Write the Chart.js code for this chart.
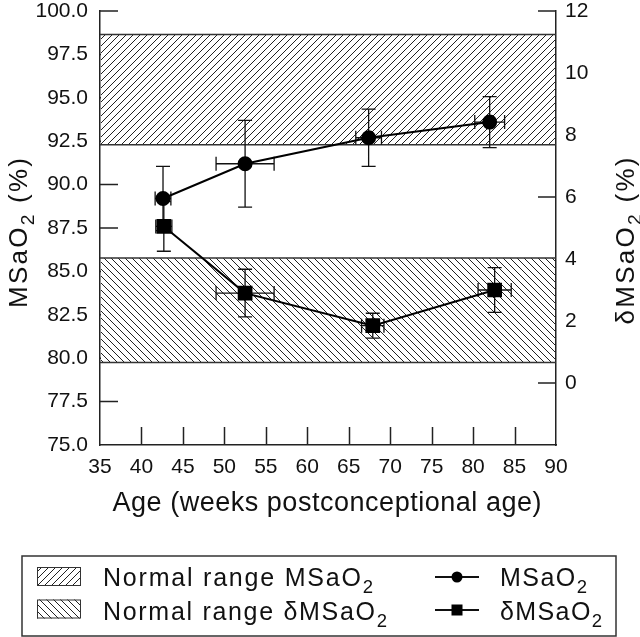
<!DOCTYPE html>
<html><head><meta charset="utf-8">
<script src="https://cdn.jsdelivr.net/npm/chart.js@4/dist/chart.umd.min.js"></script>
<style>html,body{margin:0;padding:0;background:#fff}canvas{display:block}</style>
</head><body>
<canvas id="c" width="640" height="637"></canvas>
<script>
// ---- data ----
const ageMS      = [42.6, 52.5, 67.4, 82.0];
const ageMSErr   = [0.95, 3.5, 1.55, 1.8];
const msao2      = [89.2, 91.2, 92.7, 93.6];
const msao2Err   = [1.85, 2.5, 1.65, 1.47];

const ageD       = [42.7, 52.5, 67.9, 82.6];
const ageDErr    = [0.97, 3.5, 1.35, 2.0];
const dmsao2     = [5.05, 2.9, 1.85, 3.0];
const dmsao2Err  = [0.8, 0.77, 0.4, 0.72];

const normalMS   = [92.3, 98.65];   // left axis
const normalD    = [0.66, 4.03];    // right axis

const xTicks  = {min: 35, max: 90, step: 5};
const yTicks  = {min: 75, max: 100, step: 2.5};
const y2Ticks = {min: -2, max: 12, step: 2};

const FONT = '"Liberation Sans", Arial, Helvetica, sans-serif';
const INK = '#111';

function makeHatch(ctx, dir){
  const s = 7, c = document.createElement('canvas');
  c.width = s; c.height = s;
  const g = c.getContext('2d');
  g.fillStyle = '#fff'; g.fillRect(0,0,s,s);
  g.strokeStyle = '#222'; g.lineWidth = 1;
  g.beginPath();
  if (dir > 0) {
    g.moveTo(-1, s+1); g.lineTo(s+1, -1);
    g.moveTo(-1, 1); g.lineTo(1, -1);
    g.moveTo(s-1, s+1); g.lineTo(s+1, s-1);
  } else {
    g.moveTo(-1, -1); g.lineTo(s+1, s+1);
    g.moveTo(s-1, -1); g.lineTo(s+1, 1);
    g.moveTo(-1, s-1); g.lineTo(1, s+1);
  }
  g.stroke();
  return ctx.createPattern(c, 'repeat');
}

function countChars(parts){ let n=0; for(const p of parts) n += [...p.t].length; return n; }
function naturalWidth(ctx, parts, size){
  let w = 0;
  for (const p of parts){
    ctx.font = (p.sub ? size*0.74 : size) + 'px ' + FONT;
    for (const ch of p.t) w += ctx.measureText(ch).width;
  }
  return w;
}
function drawRich(ctx, parts, x, y, size, target, align){
  const n = countChars(parts);
  const nat = naturalWidth(ctx, parts, size);
  const sp = target ? Math.max(0, (target - nat) / (n - 1)) : 0;
  const w = nat + sp * (n - 1);
  let cx = align === 'center' ? x - w/2 : x;
  ctx.textBaseline = 'alphabetic';
  ctx.textAlign = 'left';
  for (const p of parts){
    const fs = p.sub ? size*0.74 : size;
    ctx.font = fs + 'px ' + FONT;
    for (const ch of p.t){
      ctx.fillText(ch, cx, y + (p.sub ? size*0.28 : 0));
      cx += ctx.measureText(ch).width + sp;
    }
  }
}

const MS_TXT  = [{t:'MSaO'},{t:'2',sub:true}];
const D_TXT   = [{t:'\u03B4MSaO'},{t:'2',sub:true}];

const decor = {
  id: 'decor',
  beforeDatasetsDraw(chart){
    const {ctx, chartArea: a, scales} = chart;
    const x = scales.x, y = scales.y, y2 = scales.y2;
    ctx.save();
    // inward tick marks
    ctx.strokeStyle = '#222'; ctx.lineWidth = 1.5;
    ctx.beginPath();
    for (const t of x.ticks){ if (t.value <= xTicks.min || t.value >= xTicks.max) continue;
      const px = Math.round(x.getPixelForValue(t.value)) + 0.5;
      ctx.moveTo(px, a.bottom); ctx.lineTo(px, a.bottom - 18); }
    for (const t of y.ticks){ if (t.value <= yTicks.min) continue;
      const py = y.getPixelForValue(t.value);
      ctx.moveTo(a.left, py); ctx.lineTo(a.left + 18, py); }
    for (const t of y2.ticks){ if (t.value < 0) continue;
      const py = y2.getPixelForValue(t.value);
      ctx.moveTo(a.right, py); ctx.lineTo(a.right - 18, py); }
    ctx.stroke();
    // hatched normal ranges
    const bands = [
      {s: y,  r: normalMS, p: makeHatch(ctx, 1)},
      {s: y2, r: normalD,  p: makeHatch(ctx, -1)}
    ];
    for (const b of bands){
      const top = b.s.getPixelForValue(b.r[1]), bot = b.s.getPixelForValue(b.r[0]);
      ctx.fillStyle = b.p;
      ctx.fillRect(a.left + 1, top, a.right - a.left - 2, bot - top);
      ctx.strokeStyle = '#333'; ctx.lineWidth = 1.5;
      ctx.beginPath();
      ctx.moveTo(a.left, top); ctx.lineTo(a.right, top);
      ctx.moveTo(a.left, bot); ctx.lineTo(a.right, bot);
      ctx.stroke();
    }
    // error bars
    ctx.strokeStyle = INK; ctx.lineWidth = 1.3;
    const cap = 7;
    function err(xs, xe, ys, ye, sy){
      ctx.beginPath();
      for (let i = 0; i < xs.length; i++){
        const px = x.getPixelForValue(xs[i]), py = sy.getPixelForValue(ys[i]);
        const x0 = x.getPixelForValue(xs[i] - xe[i]), x1 = x.getPixelForValue(xs[i] + xe[i]);
        const y0 = sy.getPixelForValue(ys[i] + ye[i]), y1 = sy.getPixelForValue(ys[i] - ye[i]);
        ctx.moveTo(px, y0); ctx.lineTo(px, y1);
        ctx.moveTo(px - cap, y0); ctx.lineTo(px + cap, y0);
        ctx.moveTo(px - cap, y1); ctx.lineTo(px + cap, y1);
        ctx.moveTo(x0, py); ctx.lineTo(x1, py);
        ctx.moveTo(x0, py - cap); ctx.lineTo(x0, py + cap);
        ctx.moveTo(x1, py - cap); ctx.lineTo(x1, py + cap);
      }
      ctx.stroke();
    }
    err(ageMS, ageMSErr, msao2, msao2Err, y);
    err(ageD, ageDErr, dmsao2, dmsao2Err, y2);
    ctx.restore();
  },
  afterDraw(chart){
    const {ctx} = chart;
    ctx.save();
    ctx.fillStyle = INK;
    // x title
    drawRich(ctx, [{t:'Age (weeks postconceptional age)'}], 327, 511, 27, 429, 'center');
    // left title
    ctx.save(); ctx.translate(27, 233); ctx.rotate(-Math.PI/2);
    drawRich(ctx, [...MS_TXT, {t:' (%)'}], 0, 0, 26, 150, 'center');
    ctx.restore();
    // right title
    ctx.save(); ctx.translate(634, 241); ctx.rotate(-Math.PI/2);
    drawRich(ctx, [...D_TXT, {t:' (%)'}], 0, 0, 26, 167, 'center');
    ctx.restore();
    // legend box
    ctx.strokeStyle = '#333'; ctx.lineWidth = 1.5;
    ctx.strokeRect(22, 556, 594, 80);
    const sw = [{y: 567, p: makeHatch(ctx, 1)}, {y: 599.5, p: makeHatch(ctx, -1)}];
    for (const s of sw){
      ctx.fillStyle = s.p; ctx.fillRect(37, s.y, 44, 19);
      ctx.strokeStyle = '#333'; ctx.lineWidth = 1; ctx.strokeRect(37.5, s.y + 0.5, 43, 18);
    }
    ctx.fillStyle = INK;
    drawRich(ctx, [{t:'Normal range '}, ...MS_TXT], 103, 586, 25, 270, 'left');
    drawRich(ctx, [{t:'Normal range '}, ...D_TXT], 103, 619.5, 25, 284, 'left');
    drawRich(ctx, MS_TXT, 500, 586, 25, 87, 'left');
    drawRich(ctx, D_TXT, 500, 619.5, 25, 102, 'left');
    // legend line symbols
    ctx.strokeStyle = INK; ctx.lineWidth = 2;
    ctx.beginPath();
    ctx.moveTo(435, 577); ctx.lineTo(479, 577);
    ctx.moveTo(435, 610); ctx.lineTo(479, 610);
    ctx.stroke();
    ctx.fillStyle = '#000';
    ctx.beginPath(); ctx.arc(457, 577, 5.5, 0, Math.PI*2); ctx.fill();
    ctx.fillRect(451.5, 604.5, 11, 11);
    ctx.restore();
  }
};

function fixW(w){ return s => { s.width = w; s.paddingTop = 0; s.paddingBottom = 0; s.paddingLeft = 0; s.paddingRight = 0; }; }
function fixH(h){ return s => { s.height = h; s.paddingTop = 0; s.paddingBottom = 0; s.paddingLeft = 0; s.paddingRight = 0; }; }

const tickFont = {family: FONT, size: 21};
const border = {display: true, color: '#222', width: 1.5};
const grid = {display: true, drawOnChartArea: false, drawTicks: false};

new Chart(document.getElementById('c'), {
  type: 'scatter',
  data: {
    datasets: [
      {
        label: 'MSaO2',
        data: ageMS.map((a, i) => ({x: a, y: msao2[i]})),
        yAxisID: 'y',
        showLine: true,
        borderColor: '#000', backgroundColor: '#000', borderWidth: 2,
        pointStyle: 'circle', pointRadius: 6.5, pointHoverRadius: 6.5
      },
      {
        label: '\u03B4MSaO2',
        data: ageD.map((a, i) => ({x: a, y: dmsao2[i]})),
        yAxisID: 'y2',
        showLine: true,
        borderColor: '#000', backgroundColor: '#000', borderWidth: 2,
        pointStyle: 'rect', pointRadius: 9, pointHoverRadius: 9
      }
    ]
  },
  options: {
    responsive: false,
    animation: false,
    devicePixelRatio: 1,
    layout: {padding: {top: 7, left: 0, right: 0, bottom: 0}},
    plugins: {legend: {display: false}, tooltip: {enabled: false}},
    scales: {
      x: {
        type: 'linear', position: 'bottom',
        min: xTicks.min, max: xTicks.max,
        ticks: {stepSize: xTicks.step, color: INK, font: tickFont, padding: 10, maxRotation: 0, autoSkip: false},
        grid, border, afterFit: fixH(192)
      },
      y: {
        type: 'linear', position: 'left',
        min: yTicks.min, max: yTicks.max,
        ticks: {stepSize: yTicks.step, color: INK, font: tickFont, padding: 12, autoSkip: false,
                callback: v => v.toFixed(1)},
        grid, border, afterFit: fixW(100)
      },
      y2: {
        type: 'linear', position: 'right',
        min: y2Ticks.min, max: y2Ticks.max,
        ticks: {stepSize: y2Ticks.step, color: INK, font: tickFont, padding: 9, autoSkip: false,
                callback: v => v < 0 ? '' : String(v)},
        grid, border, afterFit: fixW(84)
      }
    }
  },
  plugins: [decor]
});
</script>
</body></html>
